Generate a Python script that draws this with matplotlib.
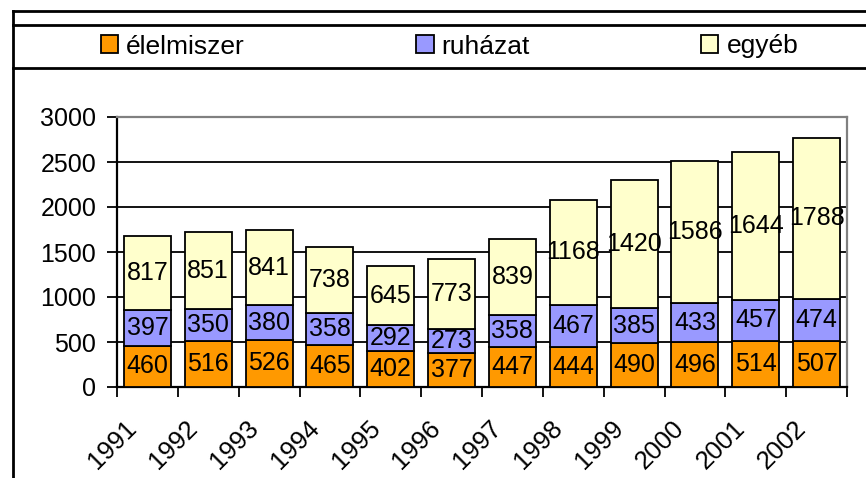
import matplotlib.pyplot as plt
import matplotlib.transforms as mtransforms
from matplotlib.lines import Line2D
import numpy as np

plt.rcParams['font.family'] = ['Liberation Sans', 'DejaVu Sans']

years = ["1991", "1992", "1993", "1994", "1995", "1996",
         "1997", "1998", "1999", "2000", "2001", "2002"]
elelmiszer = [460, 516, 526, 465, 402, 377, 447, 444, 490, 496, 514, 507]
ruhazat = [397, 350, 380, 358, 292, 273, 358, 467, 385, 433, 457, 474]
egyeb = [817, 851, 841, 738, 645, 773, 839, 1168, 1420, 1586, 1644, 1788]
series_names = ["élelmiszer", "ruházat", "egyéb"]
colors = ["#FF9900", "#9999FF", "#FFFFCC"]

fig = plt.figure(figsize=(8.66, 4.78), dpi=100)
ax = fig.add_axes([117 / 866, 1 - 387 / 478, 730 / 866, 270 / 478])

x = np.arange(len(years))
bottom = np.zeros(len(years))
bars = []
for vals, name, c in zip([elelmiszer, ruhazat, egyeb], series_names, colors):
    b = ax.bar(x, vals, 0.77, bottom=bottom, color=c, edgecolor="black",
               linewidth=1.3, label=name, zorder=3)
    ax.bar_label(b, labels=[str(v) for v in vals], label_type="center",
                 fontsize=18, zorder=4)
    bars.append(b)
    bottom += np.array(vals)

ax.set_xlim(-0.5, len(years) - 0.5)
ax.set_ylim(0, 3000)
ax.set_yticks(range(0, 3001, 500))
ax.tick_params(axis="y", labelsize=18, length=7, width=1.3, pad=8)

# grid lines (black), top line is gray plot border
for yv in range(500, 3000, 500):
    ax.axhline(yv, color="black", linewidth=1.3, zorder=1)

# category labels at centers, tick marks at boundaries
ax.set_xticks(x)
ax.set_xticklabels(years, rotation=45, ha="right", va="top", fontsize=18.5)
ax.tick_params(axis="x", which="major", length=0, pad=21)
ax.set_xticks(np.arange(-0.5, len(years)), minor=True)
ax.tick_params(axis="x", which="minor", length=7, width=1.3)
shift = mtransforms.ScaledTranslation(-6 / 100, 0, fig.dpi_scale_trans)
for lbl in ax.get_xticklabels():
    lbl.set_transform(lbl.get_transform() + shift)

for side in ["left", "bottom"]:
    ax.spines[side].set_color("black")
    ax.spines[side].set_linewidth(1.6)
for side in ["top", "right"]:
    ax.spines[side].set_color("#808080")
    ax.spines[side].set_linewidth(1.6)

fig.legend(handles=bars, labels=series_names, loc="center left",
           bbox_to_anchor=(101 / 866, 1 - 46.5 / 478), ncol=3, frameon=False,
           fontsize=19, handlelength=0.65, handleheight=0.65,
           handletextpad=0.3, columnspacing=6.5, borderpad=0,
           borderaxespad=0)

# outer frame and legend box lines
lw = 2
fig.add_artist(Line2D([13 / 866, 13 / 866], [0, 1 - 11 / 478],
                      transform=fig.transFigure, color="black", linewidth=lw))
for yy in [11, 25, 68]:
    fig.add_artist(Line2D([13 / 866, 1], [1 - yy / 478, 1 - yy / 478],
                          transform=fig.transFigure, color="black",
                          linewidth=lw))

fig.savefig("out.png", dpi=100)
